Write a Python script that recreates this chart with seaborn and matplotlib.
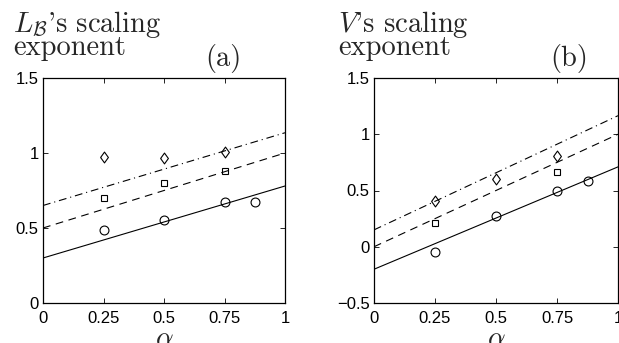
import numpy as np
import pandas as pd
import matplotlib
matplotlib.use("Agg")
import matplotlib.pyplot as plt
import seaborn as sns

# ---- data ----
alpha_circ = [0.25, 0.5, 0.75, 0.875]
alpha_sq_a = [0.25, 0.5, 0.75]
alpha_dia = [0.25, 0.5, 0.75]
alpha_sq_b = [0.25, 0.75]

# panel (a): L_B's scaling exponent
lb_circ = [0.49, 0.555, 0.675, 0.675]
lb_sq = [0.70, 0.80, 0.882]
lb_dia = [0.97, 0.965, 1.005]
lb_fit_solid = [0.30, 0.78]
lb_fit_dash = [0.50, 1.00]
lb_fit_dashdot = [0.65, 1.135]

# panel (b): V's scaling exponent
v_circ = [-0.045, 0.27, 0.50, 0.585]
v_sq = [0.21, 0.665]
v_dia = [0.41, 0.60, 0.81]
v_fit_solid = [-0.20, 0.71]
v_fit_dash = [0.0, 1.0]
v_fit_dashdot = [0.15, 1.165]

fit_x = [0.0, 1.0]
x_ticks = [0, 0.25, 0.5, 0.75, 1]
x_ticklabels = ["0", "0.25", "0.5", "0.75", "1"]

sns.set_style("ticks")
plt.rcParams["mathtext.fontset"] = "cm"
plt.rcParams["font.family"] = ["Liberation Sans", "DejaVu Sans"]

# open diamond, a bit taller than wide
diamond = [(-0.72, 0), (0, 1), (0.72, 0), (0, -1), (-0.72, 0)]

fig = plt.figure(figsize=(6.19, 3.43), dpi=100)
ax_a = fig.add_axes([43 / 619, 40 / 343, 242 / 619, 225 / 343])
ax_b = fig.add_axes([374 / 619, 40 / 343, 244 / 619, 225 / 343])


def draw_panel(ax, circ_x, circ_y, sq_x, sq_y, dia_x, dia_y, solid, dash, dashdot):
    sns.lineplot(x=fit_x, y=solid, ax=ax, color="k", linewidth=0.8, linestyle="-")
    sns.lineplot(x=fit_x, y=dash, ax=ax, color="k", linewidth=0.8, linestyle=(0, (7, 5)))
    sns.lineplot(x=fit_x, y=dashdot, ax=ax, color="k", linewidth=0.8,
                 linestyle=(0, (7, 3.5, 1, 3.5)))
    sns.lineplot(x=circ_x, y=circ_y, ax=ax, color="k", linestyle="", marker="o",
                 mfc="none", mec="k", ms=6.4, mew=0.8)
    sns.lineplot(x=sq_x, y=sq_y, ax=ax, color="k", linestyle="", marker="s",
                 mfc="none", mec="k", ms=5.0, mew=0.8)
    sns.lineplot(x=dia_x, y=dia_y, ax=ax, color="k", linestyle="", marker=diamond,
                 mfc="none", mec="k", ms=7.8, mew=0.8)
    ax.set_xlim(0, 1)
    ax.set_xticks(x_ticks)
    ax.set_xticklabels(x_ticklabels)
    ax.tick_params(direction="in", length=3.5, width=0.6, top=True, right=True,
                   labelsize=12, colors="k")
    ax.tick_params(axis="x", pad=6)
    ax.tick_params(axis="y", pad=3)
    for s in ax.spines.values():
        s.set_visible(True)
        s.set_linewidth(0.9)
        s.set_color("k")
    ax.set_xlabel(r"$\alpha$", fontsize=20, labelpad=0)
    ax.set_ylabel("")


draw_panel(ax_a, alpha_circ, lb_circ, alpha_sq_a, lb_sq, alpha_dia, lb_dia,
           lb_fit_solid, lb_fit_dash, lb_fit_dashdot)
ax_a.set_ylim(0, 1.5)
ax_a.set_yticks([0, 0.5, 1, 1.5])
ax_a.set_yticklabels(["0", "0.5", "1", "1.5"])

draw_panel(ax_b, alpha_circ, v_circ, alpha_sq_b, v_sq, alpha_dia, v_dia,
           v_fit_solid, v_fit_dash, v_fit_dashdot)
ax_b.set_ylim(-0.5, 1.5)
ax_b.set_yticks([-0.5, 0, 0.5, 1, 1.5])
ax_b.set_yticklabels(["\u22120.5", "0", "0.5", "1", "1.5"])

# panel titles in Computer Modern
serif = dict(family="cmr10", fontsize=20.5, math_fontfamily="cm")
fig.text(13 / 619, 1 - 32 / 343, r"$L_{\mathcal{B}}$'s scaling", va="baseline", **serif)
fig.text(13 / 619, 1 - 55 / 343, "exponent", va="baseline", **serif)
fig.text(205 / 619, 1 - 66 / 343, "(a)", va="baseline", **serif)
fig.text(338 / 619, 1 - 32 / 343, r"$V$'s scaling", va="baseline", **serif)
fig.text(338 / 619, 1 - 55 / 343, "exponent", va="baseline", **serif)
fig.text(550 / 619, 1 - 66 / 343, "(b)", va="baseline", **serif)

fig.savefig("out.png", dpi=100)
